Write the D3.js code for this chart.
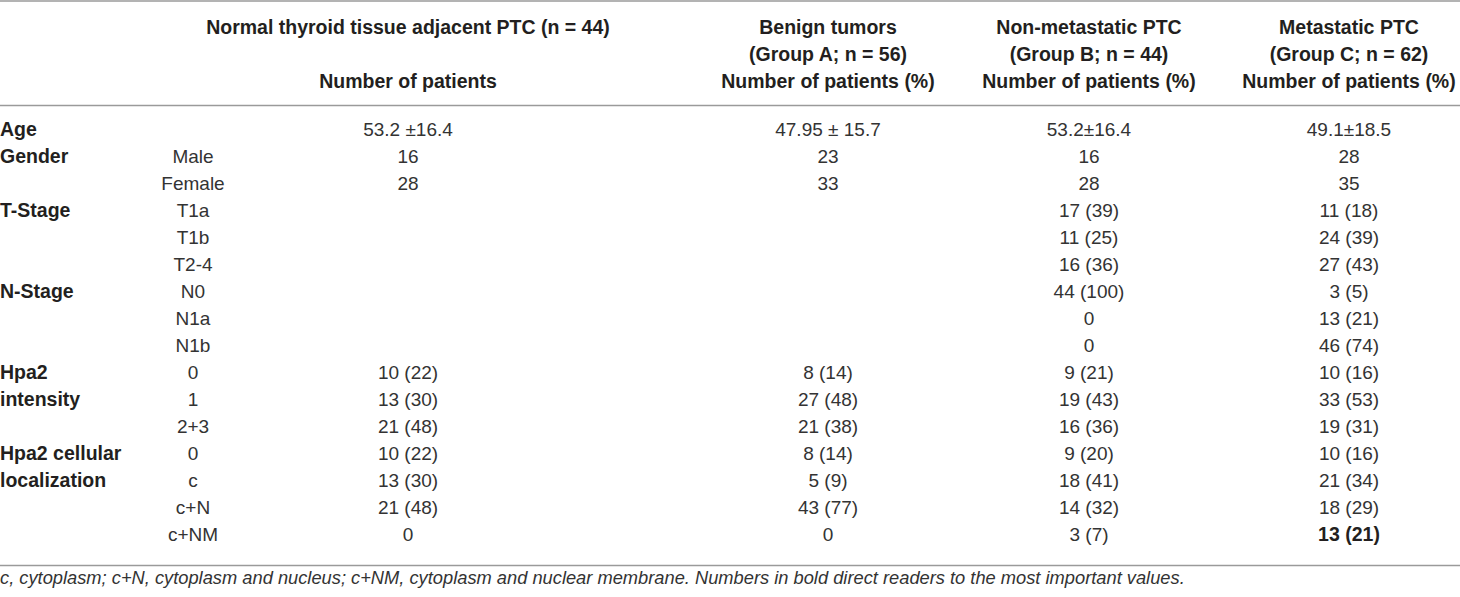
<!DOCTYPE html>
<html>
<head>
  <style>
    body {
      margin: 0;
      background: #fff;
    }
    text {
      font-family: "Liberation Sans", Arial, Helvetica, sans-serif;
      fill: #231f20;
    }
    .head, .group, .strong {
      font-weight: bold;
      font-size: 19.5px;
    }
    .cell {
      font-size: 19px;
      fill: #333;
    }
    .note {
      font-size: 18.3px;
      font-style: italic;
      fill: #333;
    }
    line.rule {
      stroke: #9a9a9a;
      stroke-width: 1.3px;
    }
  </style>
  <script src="https://d3js.org/d3.v7.min.js"></script>
</head>
<body>
<div class="table-container"></div>
<script>

const groupLabels = ['Age', 'Gender', '', 'T-Stage', '', '', 'N-Stage', '', '', 'Hpa2', 'intensity', '', 'Hpa2 cellular', 'localization', '', ''];
const subLabels = ['', 'Male', 'Female', 'T1a', 'T1b', 'T2-4', 'N0', 'N1a', 'N1b', '0', '1', '2+3', '0', 'c', 'c+N', 'c+NM'];

const normalTissue = ['53.2 \u00b116.4', '16', '28', '', '', '', '', '', '', '10 (22)', '13 (30)', '21 (48)', '10 (22)', '13 (30)', '21 (48)', '0'];
const benignTumors = ['47.95 \u00b1 15.7', '23', '33', '', '', '', '', '', '', '8 (14)', '27 (48)', '21 (38)', '8 (14)', '5 (9)', '43 (77)', '0'];
const nonMetastatic = ['53.2\u00b116.4', '16', '28', '17 (39)', '11 (25)', '16 (36)', '44 (100)', '0', '0', '9 (21)', '19 (43)', '16 (36)', '9 (20)', '18 (41)', '14 (32)', '3 (7)'];
const metastatic = ['49.1\u00b118.5', '28', '35', '11 (18)', '24 (39)', '27 (43)', '3 (5)', '13 (21)', '46 (74)', '10 (16)', '33 (53)', '19 (31)', '10 (16)', '21 (34)', '18 (29)', '13 (21)'];

const headerLines = [
  ['Normal thyroid tissue adjacent PTC (n = 44)', '', 'Number of patients'],
  ['Benign tumors', '(Group A; n = 56)', 'Number of patients (%)'],
  ['Non-metastatic PTC', '(Group B; n = 44)', 'Number of patients (%)'],
  ['Metastatic PTC', '(Group C; n = 62)', 'Number of patients (%)']
];

// the one value set in bold in the source table
const boldCells = [[3, 15]];

const footnote = 'c, cytoplasm; c+N, cytoplasm and nucleus; c+NM, cytoplasm and nuclear membrane. Numbers in bold direct readers to the most important values.';

const width = 1460;
const height = 597;

const svg = d3.select('.table-container')
  .append('svg')
  .attr('width', width)
  .attr('height', height);

const valueColumns = [normalTissue, benignTumors, nonMetastatic, metastatic];

// column centres: the sub-label column and then the four data columns
const colScale = d3.scaleOrdinal()
  .domain(['sub', 0, 1, 2, 3])
  .range([193, 408, 828, 1089, 1349]);

const rowScale = d3.scalePoint()
  .domain(d3.range(subLabels.length))
  .range([136, 541]);

const headScale = d3.scalePoint()
  .domain([0, 1, 2])
  .range([34, 88]);

// horizontal rules
svg.append('g')
  .selectAll('line')
  .data([1, 105.5, 565.5])
  .join('line')
  .attr('class', 'rule')
  .attr('x1', 0)
  .attr('x2', width)
  .attr('y1', d => d)
  .attr('y2', d => d);

// column headers
svg.append('g')
  .selectAll('g')
  .data(headerLines)
  .join('g')
  .each(function(lines, c){
    d3.select(this).selectAll('text')
      .data(lines)
      .join('text')
      .attr('class', 'head')
      .attr('text-anchor', 'middle')
      .attr('x', colScale(c))
      .attr('y', (d, i) => headScale(i))
      .text(d => d);
  });

// row group labels
svg.append('g')
  .selectAll('text')
  .data(groupLabels)
  .join('text')
  .attr('class', 'group')
  .attr('x', 0)
  .attr('y', (d, i) => rowScale(i))
  .text(d => d);

// sub labels
svg.append('g')
  .selectAll('text')
  .data(subLabels)
  .join('text')
  .attr('class', 'cell')
  .attr('text-anchor', 'middle')
  .attr('x', colScale('sub'))
  .attr('y', (d, i) => rowScale(i))
  .text(d => d);

// values
valueColumns.forEach((values, c) => {
  svg.append('g')
    .selectAll('text')
    .data(values)
    .join('text')
    .attr('class', (d, i) => boldCells.some(b => b[0] === c && b[1] === i) ? 'strong' : 'cell')
    .attr('text-anchor', 'middle')
    .attr('x', colScale(c))
    .attr('y', (d, i) => rowScale(i))
    .text(d => d);
});

svg.append('text')
  .attr('class', 'note')
  .attr('x', 0)
  .attr('y', 584)
  .text(footnote);

</script>
</body>
</html>
